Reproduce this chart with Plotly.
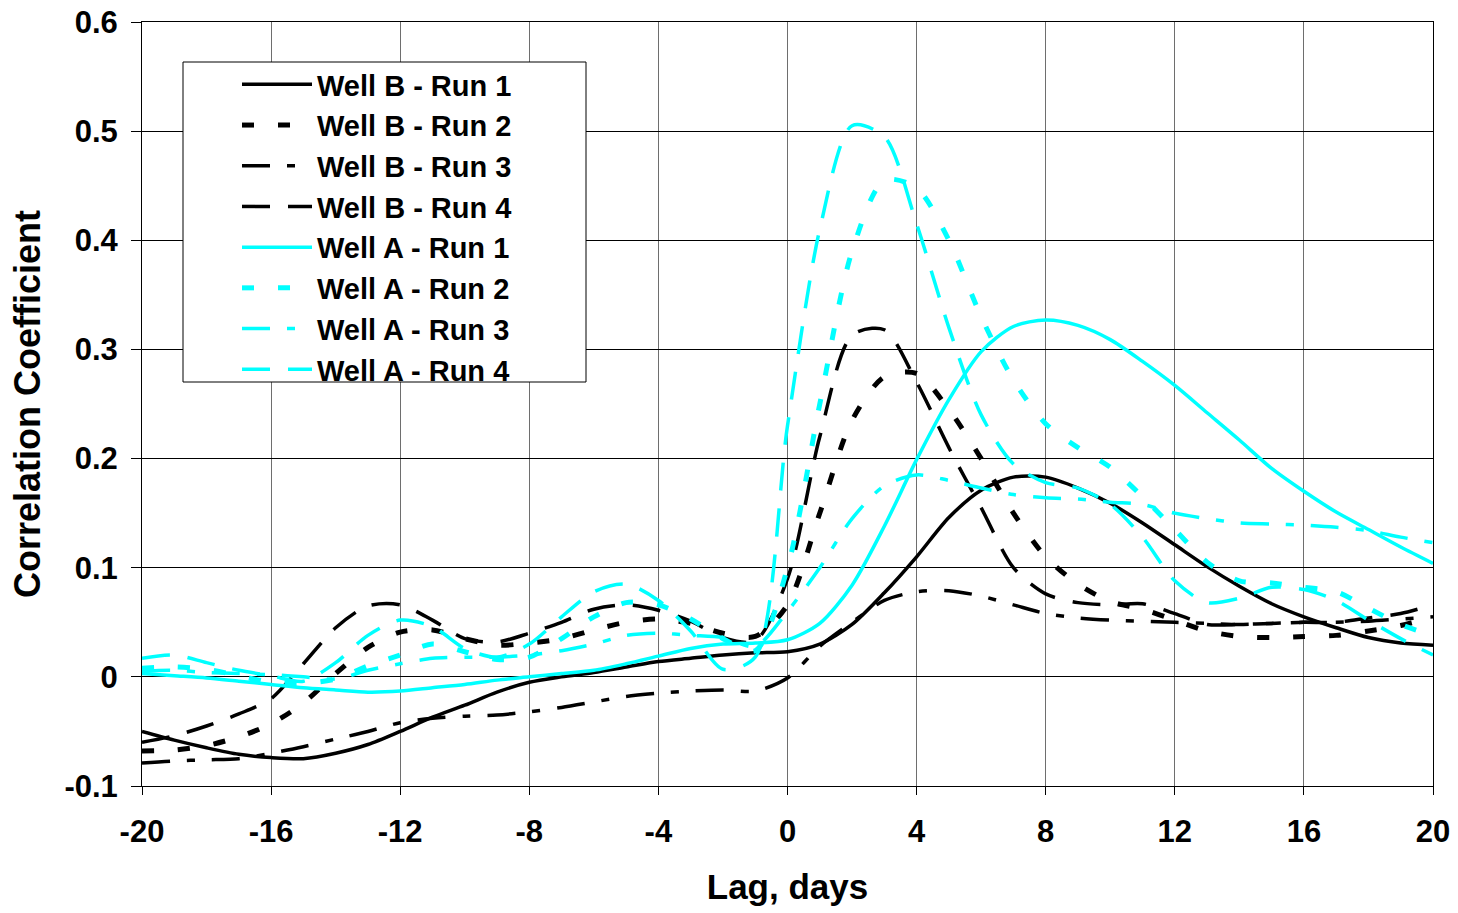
import plotly.graph_objects as go

lags = list(range(-20, 21))

well_b_run1 = [-0.050, -0.058, -0.065, -0.071, -0.074, -0.075, -0.070, -0.062, -0.050, -0.037,
               -0.026, -0.014, -0.005, 0.000, 0.004, 0.009, 0.014, 0.017, 0.020, 0.022,
               0.023, 0.030, 0.048, 0.077, 0.110, 0.146, 0.171, 0.183, 0.183, 0.173,
               0.159, 0.141, 0.121, 0.101, 0.083, 0.067, 0.055, 0.045, 0.036, 0.031, 0.029]
well_b_run2 = [-0.068, -0.067, -0.063, -0.055, -0.043, -0.024, 0.003, 0.027, 0.041, 0.043,
               0.035, 0.029, 0.031, 0.035, 0.043, 0.050, 0.053, 0.049, 0.040, 0.037,
               0.066, 0.150, 0.235, 0.275, 0.278, 0.245, 0.200, 0.150, 0.110, 0.085,
               0.069, 0.062, 0.052, 0.042, 0.037, 0.036, 0.037, 0.038, 0.042, 0.047, 0.055]
well_b_run3 = [-0.079, -0.077, -0.076, -0.075, -0.070, -0.064, -0.057, -0.050, -0.042, -0.038,
               -0.036, -0.035, -0.032, -0.028, -0.023, -0.018, -0.015, -0.013, -0.012, -0.013,
               -0.001, 0.028, 0.050, 0.070, 0.078, 0.079, 0.074, 0.066, 0.058, 0.054,
               0.052, 0.051, 0.050, 0.049, 0.048, 0.049, 0.050, 0.050, 0.051, 0.053, 0.055]
well_b_run4 = [-0.060, -0.054, -0.045, -0.034, -0.020, 0.012, 0.045, 0.065, 0.066, 0.052,
               0.035, 0.032, 0.040, 0.050, 0.062, 0.066, 0.061, 0.051, 0.036, 0.033,
               0.090, 0.220, 0.313, 0.318, 0.270, 0.210, 0.155, 0.100, 0.076, 0.068,
               0.066, 0.067, 0.058, 0.048, 0.048, 0.049, 0.050, 0.050, 0.054, 0.058, 0.066]
well_a_run1 = [0.003, 0.001, -0.001, -0.004, -0.007, -0.010, -0.012, -0.014, -0.013, -0.010,
               -0.007, -0.003, 0.000, 0.003, 0.006, 0.012, 0.019, 0.026, 0.030, 0.031,
               0.034, 0.049, 0.084, 0.138, 0.199, 0.254, 0.298, 0.321, 0.327, 0.322,
               0.309, 0.289, 0.267, 0.242, 0.217, 0.191, 0.170, 0.151, 0.135, 0.119, 0.104]
well_a_run2 = [0.008, 0.009, 0.007, 0.001, -0.005, -0.006, -0.002, 0.010, 0.020, 0.030,
               0.023, 0.016, 0.018, 0.035, 0.055, 0.068, 0.066, 0.053, 0.035, 0.024,
               0.100, 0.250, 0.390, 0.455, 0.448, 0.400, 0.330, 0.272, 0.232, 0.210,
               0.192, 0.165, 0.135, 0.105, 0.088, 0.086, 0.082, 0.078, 0.063, 0.048, 0.038]
well_a_run3 = [0.005, 0.006, 0.004, 0.003, 0.002, 0.000, -0.002, 0.006, 0.012, 0.017,
               0.018, 0.018, 0.020, 0.024, 0.030, 0.038, 0.040, 0.038, 0.036, 0.028,
               0.060, 0.100, 0.145, 0.175, 0.185, 0.180, 0.173, 0.167, 0.164, 0.163,
               0.160, 0.158, 0.150, 0.145, 0.141, 0.140, 0.139, 0.137, 0.134, 0.128, 0.123]
well_a_run4 = [0.017, 0.020, 0.013, 0.006, 0.001, -0.004, 0.013, 0.038, 0.052, 0.046,
               0.026, 0.018, 0.030, 0.055, 0.078, 0.085, 0.070, 0.042, 0.007, 0.018,
               0.230, 0.410, 0.505, 0.495, 0.415, 0.320, 0.240, 0.195, 0.178, 0.173,
               0.158, 0.128, 0.088, 0.068, 0.072, 0.082, 0.080, 0.070, 0.052, 0.035, 0.020]

series_names = ["Well B - Run 1", "Well B - Run 2", "Well B - Run 3", "Well B - Run 4",
                "Well A - Run 1", "Well A - Run 2", "Well A - Run 3", "Well A - Run 4"]
series_values = [well_b_run1, well_b_run2, well_b_run3, well_b_run4,
                 well_a_run1, well_a_run2, well_a_run3, well_a_run4]

x_tick_vals = [-20, -16, -12, -8, -4, 0, 4, 8, 12, 16, 20]
x_tick_text = ["-20", "-16", "-12", "-8", "-4", "0", "4", "8", "12", "16", "20"]
y_tick_vals = [-0.1, 0.0, 0.1, 0.2, 0.3, 0.4, 0.5, 0.6]
y_tick_text = ["-0.1", "0", "0.1", "0.2", "0.3", "0.4", "0.5", "0.6"]

colors = ["#000000"] * 4 + ["#00FFFF"] * 4
dashes = ["solid", "12px,24px", "28px,17px,8px,17px", "28px,18px"] * 2
widths = [3.5, 5, 3.5, 3.5] * 2

FONT = "Liberation Sans, Arial, sans-serif"

fig = go.Figure()
for name, vals, c, d, w in zip(series_names, series_values, colors, dashes, widths):
    fig.add_trace(go.Scatter(
        x=lags, y=vals, mode="lines", name=name,
        line=dict(color=c, dash=d, width=w, shape="spline", smoothing=0.8),
    ))

W, H = 1458, 913
L, R, T, B = 142, 25, 22, 127
pw, ph = W - L - R, H - T - B

def px_x(p):
    return (p - L) / pw

def px_y(p):
    return (H - B - p) / ph

fig.add_shape(type="rect", xref="paper", yref="paper",
              x0=px_x(183), x1=px_x(586), y0=px_y(382), y1=px_y(62),
              line=dict(color="black", width=1), fillcolor="white", layer="above")

fig.update_layout(
    width=W, height=H, autosize=False,
    margin=dict(l=L, r=R, t=T, b=B, pad=0, autoexpand=False),
    paper_bgcolor="white", plot_bgcolor="white",
    font=dict(family=FONT, color="black", size=28, weight="bold"),
    showlegend=True,
    legend=dict(
        x=px_x(237), y=px_y(59), xanchor="left", yanchor="top",
        bgcolor="rgba(0,0,0,0)", borderwidth=0,
        font=dict(family=FONT, size=29, color="black", weight="bold"),
        itemwidth=70, tracegroupgap=0,
    ),
    xaxis=dict(
        range=[-20, 20], tickmode="array", tickvals=x_tick_vals, ticktext=x_tick_text,
        automargin=False,
        showgrid=True, gridcolor="#6e6e6e", gridwidth=1,
        showline=True, linecolor="black", linewidth=1, mirror=True,
        ticks="outside", ticklen=8, tickcolor="black",
        tickfont=dict(family=FONT, size=31, color="black", weight="bold"),
        ticklabelstandoff=10,
        zeroline=False,
        title=dict(text="Lag, days", font=dict(family=FONT, size=35, color="black", weight="bold"), standoff=26),
    ),
    yaxis=dict(
        range=[-0.1, 0.6], tickmode="array", tickvals=y_tick_vals, ticktext=y_tick_text,
        automargin=False,
        showgrid=True, gridcolor="#000000", gridwidth=1,
        showline=True, linecolor="black", linewidth=1, mirror=True,
        ticks="outside", ticklen=10, tickcolor="black",
        tickfont=dict(family=FONT, size=31, color="black", weight="bold"),
        ticklabelstandoff=7,
        zeroline=False,
        title=dict(text="Correlation Coefficient", font=dict(family=FONT, size=36, color="black", weight="bold"), standoff=12),
    ),
)

fig.write_html("out.html")
